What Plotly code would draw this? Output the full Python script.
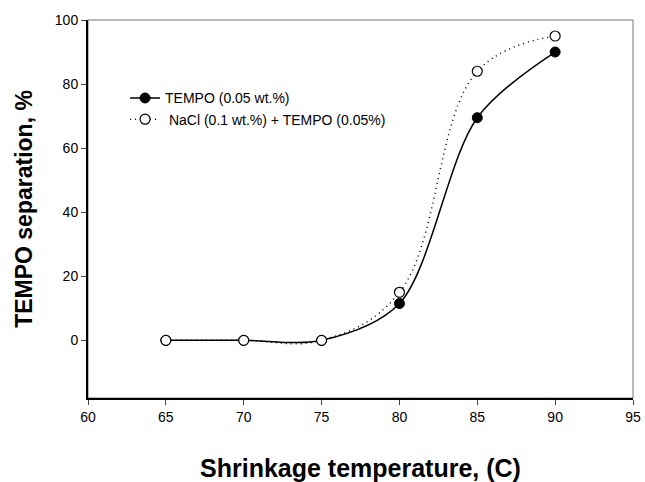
import plotly.graph_objects as go

temps = [65, 70, 75, 80, 85, 90]
tempo_only = [0, 0, 0, 11.5, 69.5, 90]
nacl_tempo = [0, 0, 0, 15, 84, 95]

x_ticks = [60, 65, 70, 75, 80, 85, 90, 95]
y_ticks = [0, 20, 40, 60, 80, 100]

fig = go.Figure()
fig.add_trace(go.Scatter(
    x=temps, y=tempo_only, name="TEMPO (0.05 wt.%)",
    mode="lines+markers",
    line=dict(color="black", width=1.5, shape="spline", smoothing=0.9),
    marker=dict(symbol="circle", size=10, color="black", line=dict(color="black", width=1)),
))
fig.add_trace(go.Scatter(
    x=temps, y=nacl_tempo, name=" NaCl (0.1 wt.%) + TEMPO (0.05%)",
    mode="lines+markers",
    line=dict(color="black", width=1.5, dash="1px,4px", shape="spline", smoothing=1.1),
    marker=dict(symbol="circle", size=10, color="white", line=dict(color="black", width=1.2)),
))

fig.add_shape(type="rect", xref="paper", yref="paper", x0=0, y0=0, x1=1, y1=1,
              line=dict(color="#777777", width=1), layer="below")

fig.update_layout(
    width=645, height=482,
    margin=dict(l=88, r=12, t=20, b=84),
    paper_bgcolor="white", plot_bgcolor="white",
    font=dict(family="Arial, Liberation Sans, sans-serif", size=14, color="black"),
    showlegend=True,
    legend=dict(x=0.068, y=0.835, xanchor="left", yanchor="top",
                bgcolor="rgba(0,0,0,0)", font=dict(size=14), tracegroupgap=0,
                itemwidth=30),
    xaxis=dict(range=[60, 95], tickvals=x_ticks, ticks="outside", ticklen=5,
               showline=True, linecolor="black", linewidth=2, showgrid=False,
               zeroline=False, automargin=False, tickfont=dict(size=14),
               title=dict(text="<b>Shrinkage temperature, (C)</b>", font=dict(size=25), standoff=36)),
    yaxis=dict(range=[-18, 100], tickvals=y_ticks, ticks="outside", ticklen=5,
               showline=True, linecolor="black", linewidth=2, showgrid=False,
               zeroline=False, automargin=False, tickfont=dict(size=14),
               title=dict(text="<b>TEMPO separation, %</b>", font=dict(size=23), standoff=16)),
)

fig.write_html("out.html", config={"displayModeBar": False},
               post_script="document.body.style.margin='0px';document.body.style.overflow='hidden';")
